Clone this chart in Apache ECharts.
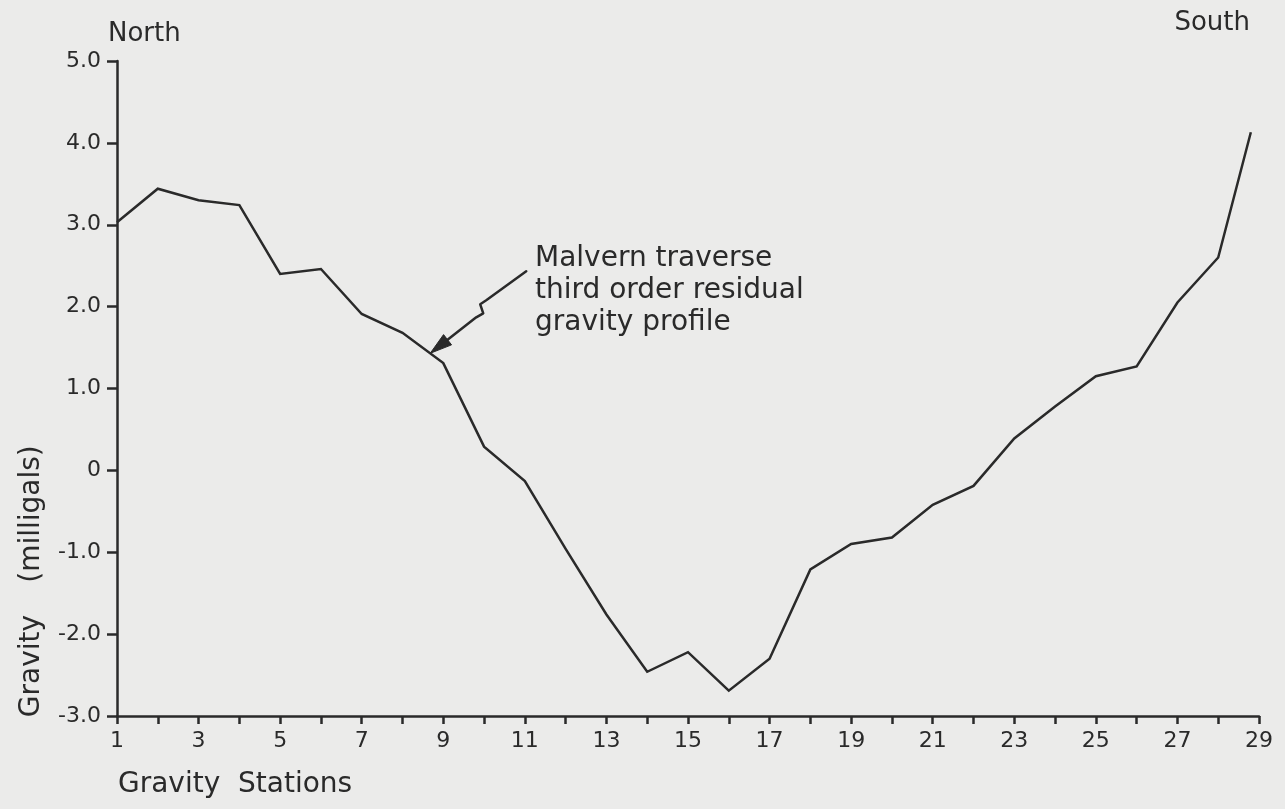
<!DOCTYPE html>
<html>
<head>
<meta charset="utf-8">
<script src="https://cdn.jsdelivr.net/npm/echarts@6/dist/echarts.min.js"></script>
<style>
html,body{margin:0;padding:0;background:#ebebea;}
#chart{width:1285px;height:809px;}
</style>
</head>
<body>
<div id="chart"></div>
<script>
// Gravity stations (x) and third order residual gravity (milligals)
const stations = [1,2,3,4,5,6,7,8,9,10,11,12,13,14,15,16,17,18,19,20,21,22,23,24,25,26,27,28,28.8];
const gravity  = [3.03,3.44,3.30,3.24,2.40,2.46,1.91,1.68,1.31,0.29,-0.13,-0.96,-1.76,-2.46,-2.22,-2.69,-2.30,-1.21,-0.90,-0.82,-0.42,-0.19,0.39,0.78,1.15,1.27,2.05,2.60,4.13];
const xTickLabels = ['1','3','5','7','9','11','13','15','17','19','21','23','25','27','29'];
const yTickLabels = ['-3.0','-2.0','-1.0','0','1.0','2.0','3.0','4.0','5.0'];
const annotation = ['Malvern traverse','third order residual','gravity profile'];
const arrowTarget = [8.68, 1.43];

const FONT = 'DejaVu Sans';
const INK = '#2a2a2a';

const chart = echarts.init(document.getElementById('chart'), null, {renderer:'canvas'});
const seriesData = stations.map((s,i)=>[s, gravity[i]]);

chart.setOption({
  backgroundColor:'#ebebea',
  animation:false,
  grid:{left:117,right:26,top:61,bottom:93,containLabel:false},
  xAxis:{
    type:'value', min:1, max:29, interval:1,
    axisLine:{show:true,onZero:false,lineStyle:{color:INK,width:2.5}},
    axisTick:{show:true,length:8,inside:false,lineStyle:{color:INK,width:2.5}},
    splitLine:{show:false},
    axisLabel:{
      show:true,margin:14,color:INK,fontFamily:FONT,fontSize:22,
      showMinLabel:true,showMaxLabel:true,
      formatter:function(v){const s=String(Math.round(v));return xTickLabels.indexOf(s)>=0 && Math.abs(v-Math.round(v))<1e-6 ? s : '';}
    }
  },
  yAxis:{
    type:'value', min:-3, max:5, interval:1,
    axisLine:{show:true,onZero:false,lineStyle:{color:INK,width:2.5}},
    axisTick:{show:true,length:10,inside:false,lineStyle:{color:INK,width:2.5}},
    splitLine:{show:false},
    axisLabel:{
      show:true,margin:16,color:INK,fontFamily:FONT,fontSize:22,
      showMinLabel:true,showMaxLabel:true,
      formatter:function(v){const i=Math.round(v)+3;return yTickLabels[i]!==undefined?yTickLabels[i]:'';}
    }
  },
  series:[{
    type:'line',
    data:seriesData,
    showSymbol:false,
    smooth:false,
    lineStyle:{color:INK,width:2.5,join:'miter'},
    z:3
  }]
});

// annotation arrow anchored on the profile
const tip = chart.convertToPixel({xAxisIndex:0,yAxisIndex:0}, arrowTarget);
const tx = tip[0], ty = tip[1];
const dx = 46, dy = -36, len = Math.sqrt(dx*dx+dy*dy);
const ux = -dx/len, uy = -dy/len, px = -uy, py = ux;
const hl = 22, hw = 6.5;
const bx = tx - hl*ux, by = ty - hl*uy;

function txt(opts){
  return Object.assign({type:'text', silent:true}, opts);
}

chart.setOption({
  graphic:[
    txt({style:{x:108,y:34,text:'North',fill:INK,font:'26px "DejaVu Sans"',textAlign:'left',textVerticalAlign:'middle',align:'left',verticalAlign:'middle'}}),
    txt({style:{x:1250,y:23,text:'South',fill:INK,font:'26px "DejaVu Sans"',textAlign:'right',textVerticalAlign:'middle',align:'right',verticalAlign:'middle'}}),
    txt({style:{x:118,y:785,text:'Gravity  Stations',fill:INK,font:'28px "DejaVu Sans"',textAlign:'left',textVerticalAlign:'middle',align:'left',verticalAlign:'middle'}}),
    txt({x:32,y:666,rotation:Math.PI/2,style:{x:0,y:0,text:'Gravity',fill:INK,font:'28px "DejaVu Sans"',textAlign:'center',textVerticalAlign:'middle',align:'center',verticalAlign:'middle'}}),
    txt({x:32,y:514,rotation:Math.PI/2,style:{x:0,y:0,text:'(milligals)',fill:INK,font:'28px "DejaVu Sans"',textAlign:'center',textVerticalAlign:'middle',align:'center',verticalAlign:'middle'}}),
    txt({style:{x:535,y:243,text:annotation.join('\n'),fill:INK,font:'28px "DejaVu Sans"',lineHeight:32,textAlign:'left',textVerticalAlign:'top',align:'left',verticalAlign:'top'}}),
    {type:'polyline',silent:true,shape:{points:[[bx,by],[tx+46,ty-36],[tx+53,ty-40],[tx+50,ty-49],[tx+56,ty-53],[tx+96,ty-82]]},style:{stroke:INK,lineWidth:2.5,fill:null,lineJoin:'round',lineCap:'round'}},
    {type:'polygon',silent:true,shape:{points:[[tx,ty],[bx+hw*px,by+hw*py],[bx-hw*px,by-hw*py]]},style:{fill:INK,stroke:INK,lineWidth:1}}
  ]
});
</script>
</body>
</html>
